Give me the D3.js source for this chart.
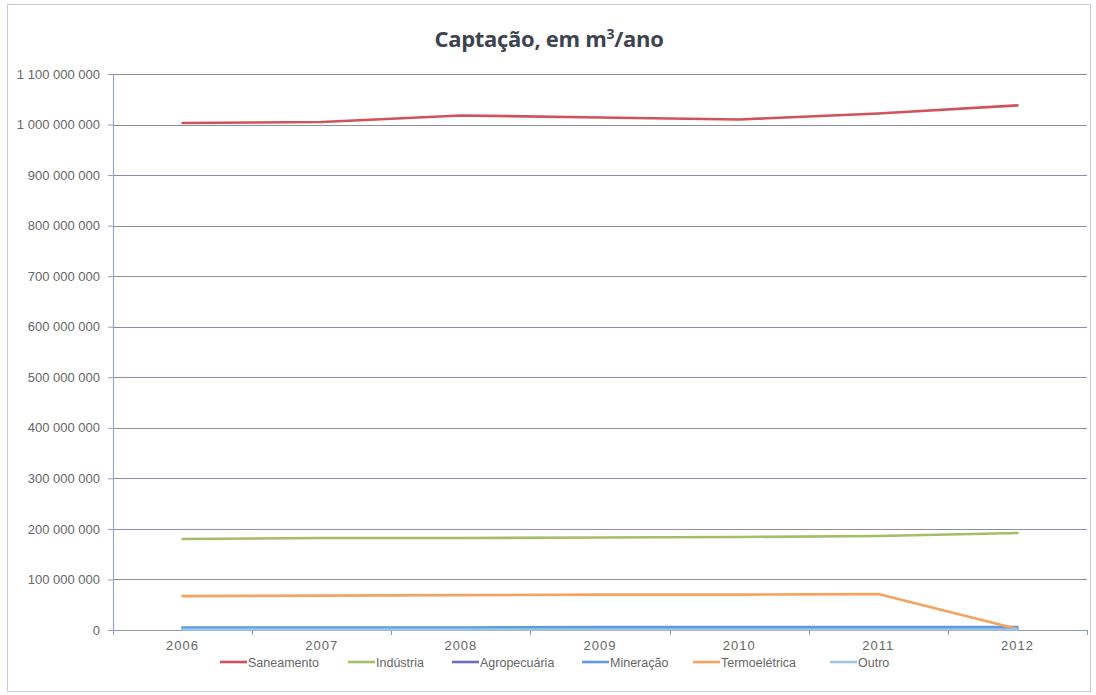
<!DOCTYPE html>
<html>
<head>
<meta charset="utf-8">
<script src="https://cdn.jsdelivr.net/npm/d3@7"></script>
<style>
  html, body { margin: 0; padding: 0; background: #fff; }
  svg { display: block; }
</style>
</head>
<body>
<svg id="chart" width="1096" height="695"></svg>
<script>
// Captação de água por setor usuário, m³/ano
const years = ["2006", "2007", "2008", "2009", "2010", "2011", "2012"];
const saneamento    = [1003e6, 1005e6, 1018e6, 1014e6, 1010e6, 1022e6, 1038e6];
const industria     = [180e6, 182e6, 182e6, 183e6, 184e6, 186e6, 192e6];
const agropecuaria  = [3e6, 3e6, 3e6, 3e6, 3e6, 3e6, 3e6];
const mineracao     = [5e6, 5e6, 5e6, 6e6, 6e6, 6e6, 6e6];
const termoeletrica = [67e6, 68e6, 69e6, 70e6, 70e6, 71e6, 2e6];
const outro         = [1e6, 1e6, 1e6, 1e6, 1e6, 1e6, 1e6];
const yTicks = [0, 100e6, 200e6, 300e6, 400e6, 500e6, 600e6, 700e6, 800e6, 900e6, 1000e6, 1100e6];

const series = [
  { name: "Saneamento",    values: saneamento,    color: "#d0525a" },
  { name: "Indústria",     values: industria,     color: "#a4bd68" },
  { name: "Agropecuária",  values: agropecuaria,  color: "#6b70b4" },
  { name: "Mineração",     values: mineracao,     color: "#5c9ce0" },
  { name: "Termoelétrica", values: termoeletrica, color: "#f4a25e" },
  { name: "Outro",         values: outro,         color: "#9cc6ea" }
];

const svg = d3.select("#chart");
const W = 1096, H = 695;
const plot = { left: 113, right: 1087, top: 74, bottom: 630 };
const labelFont = "'Liberation Sans', Arial, sans-serif";

const locale = d3.formatLocale({ decimal: ",", thousands: " ", grouping: [3], currency: ["", ""] });
const fmt = locale.format(",d");

const x = d3.scaleBand().domain(years).range([plot.left, plot.right]).padding(0);
const y = d3.scaleLinear().domain([0, 1100e6]).range([plot.bottom, plot.top]);
const cx = d => x(d) + x.bandwidth() / 2;

// chart frame
svg.append("rect")
  .attr("x", 7.5).attr("y", 4.5).attr("width", W - 13).attr("height", H - 8)
  .attr("fill", "#fff").attr("stroke", "#c3c9e2").attr("stroke-width", 1);

// title
const title = svg.append("text")
  .attr("x", 549).attr("y", 47)
  .attr("text-anchor", "middle")
  .attr("font-family", "'Open Sans', 'Liberation Sans', sans-serif")
  .attr("font-size", 22).attr("font-weight", "bold")
  .attr("letter-spacing", -0.3)
  .attr("fill", "#3d4450");
title.append("tspan").text("Captação, em m");
title.append("tspan").attr("font-size", 14).attr("dy", -8).text("3");
title.append("tspan").attr("dy", 8).text("/ano");

// horizontal gridlines
svg.append("g")
  .selectAll("line")
  .data(yTicks.filter(v => v > 0))
  .join("line")
  .attr("x1", plot.left).attr("x2", plot.right)
  .attr("y1", d => Math.round(y(d)) + 0.5).attr("y2", d => Math.round(y(d)) + 0.5)
  .attr("stroke", "#8b8ea3").attr("stroke-width", 1);

// y axis
const yAxis = svg.append("g")
  .attr("transform", `translate(${plot.left},0)`)
  .call(d3.axisLeft(y).tickValues(yTicks).tickFormat(fmt).tickSize(5).tickPadding(8));
yAxis.select(".domain").attr("stroke", "#8d9bd0");
yAxis.selectAll(".tick line").attr("stroke", "#8d9bd0");
yAxis.selectAll("text")
  .attr("font-family", labelFont)
  .attr("font-size", 13).attr("fill", "#666");

// x axis
const xAxis = svg.append("g")
  .attr("transform", `translate(0,${plot.bottom})`)
  .call(d3.axisBottom(x).tickSize(0).tickPadding(11));
xAxis.select(".domain").attr("stroke", "#8a93b8");
xAxis.selectAll("text")
  .attr("font-family", labelFont)
  .attr("font-size", 13).attr("letter-spacing", 1).attr("fill", "#666");
// category boundary ticks
svg.append("g")
  .selectAll("line")
  .data(years.map(d => x(d)).concat([plot.right]))
  .join("line")
  .attr("x1", d => Math.round(d) + 0.5).attr("x2", d => Math.round(d) + 0.5)
  .attr("y1", plot.bottom).attr("y2", plot.bottom + 5)
  .attr("stroke", "#8a93b8");

// series lines
const line = d3.line()
  .x((d, i) => cx(years[i]))
  .y(d => y(d));

svg.append("g")
  .selectAll("path")
  .data(series)
  .join("path")
  .attr("d", s => line(s.values))
  .attr("fill", "none")
  .attr("stroke", s => s.color)
  .attr("stroke-width", 2.6)
  .attr("stroke-linecap", "round")
  .attr("stroke-linejoin", "round");

// legend
const legendPos = [220, 348, 452, 582, 693, 830];
const legend = svg.append("g")
  .selectAll("g")
  .data(series)
  .join("g")
  .attr("transform", (d, i) => `translate(${legendPos[i]},662)`);
legend.append("line")
  .attr("x1", 0).attr("x2", 27).attr("y1", 0).attr("y2", 0)
  .attr("stroke", d => d.color).attr("stroke-width", 2.6);
legend.append("text")
  .attr("x", 28).attr("y", 4.5)
  .attr("font-family", labelFont)
  .attr("font-size", 12.5).attr("fill", "#666")
  .text(d => d.name);
</script>
</body>
</html>
